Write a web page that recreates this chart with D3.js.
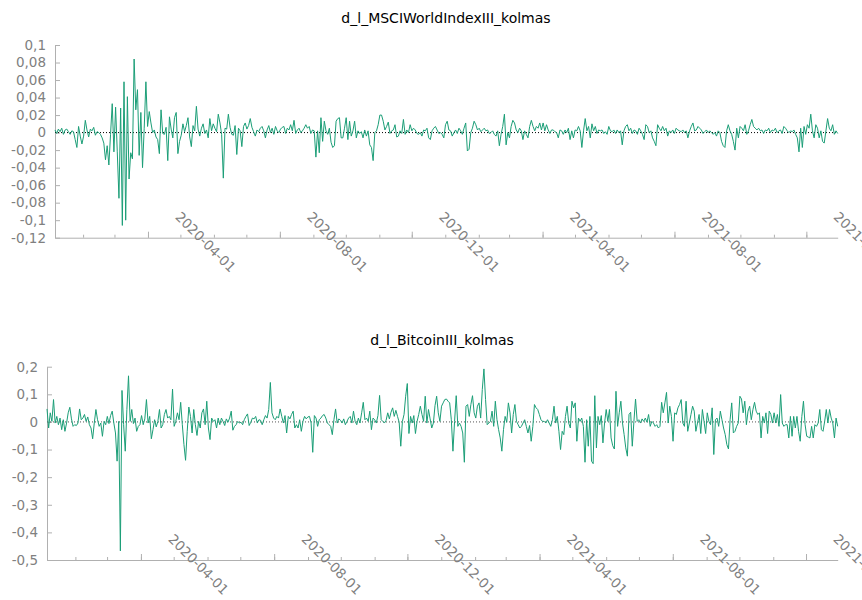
<!DOCTYPE html>
<html>
<head>
<meta charset="utf-8">
<script src="https://cdn.jsdelivr.net/npm/d3@7"></script>
<style>
  body { margin: 0; background: #fff; }
  text { font-family: "DejaVu Sans", sans-serif; }
</style>
</head>
<body>
<div id="chart"></div>
<script>
// sample: daily observations, 2020-01-06 .. 2021-12-30
const startDate = new Date(2020, 0, 6);
const endDate = new Date(2021, 11, 30);

const majorTickDates = ["2020-04-01", "2020-08-01", "2020-12-01", "2021-04-01", "2021-08-01", "2021-12-01"];
const msciTicks = [0.1, 0.08, 0.06, 0.04, 0.02, 0, -0.02, -0.04, -0.06, -0.08, -0.1, -0.12];
const btcTicks = [0.2, 0.1, 0, -0.1, -0.2, -0.3, -0.4, -0.5];

const msciValues = [
  0.003, -0.001, 0.004, 0.001, 0.005, -0.002, 0.003, 0.004, 0.001, -0.002, 0.002, 0.001,
  -0.008, -0.017, 0.007, -0.004, -0.013, -0.004, 0.014, 0.003, -0.005, 0.004, 0.002, 0.006,
  -0.003, 0.001, 0.000, -0.002, -0.006, -0.012, -0.031,
  -0.015, -0.037, -0.002, 0.033, -0.022, 0.029, -0.022, -0.075, 0.028, -0.106, 0.058, -0.100,
  0.041, -0.053, -0.023, -0.030, 0.084, 0.026, 0.049, -0.026, 0.023, -0.040, 0.005, 0.058,
  0.007, 0.024, 0.011, 0.000, 0.003, -0.005, -0.008, -0.024, 0.026, -0.001, -0.002, 0.006,
  -0.032, 0.018, 0.004, -0.006, 0.017, 0.023, -0.024, -0.010, -0.003, 0.010, 0.001, 0.008,
  0.017,
  -0.005, -0.016, 0.008, 0.002, 0.030, 0.004, -0.004, 0.005, 0.010, -0.001, 0.003, -0.006,
  0.016, 0.002, 0.010, 0.005, 0.001, 0.021, 0.011, -0.002, -0.052, 0.005, 0.004, 0.021,
  0.006, -0.002, -0.003, 0.008, -0.025, 0.005, 0.002, -0.016, 0.007, 0.011, 0.004, 0.008,
  0.016, 0.006, 0.001, -0.004, 0.003,
  0.001, 0.005, 0.007, 0.002, -0.006, 0.003, 0.008, 0.000, 0.005, -0.002, 0.007, 0.002,
  0.000, 0.004, 0.006,
  0.007, -0.001, 0.005, 0.003, 0.009, 0.002, 0.014, -0.001, 0.003, 0.005, 0.000, 0.002,
  0.005, 0.009, 0.005, 0.007, -0.001, 0.003, 0.002, -0.028, 0.002, -0.023, 0.017, -0.010,
  0.013, 0.002, -0.002, 0.005, -0.011, -0.017, -0.015, 0.013, 0.016, 0.017, -0.006, -0.006,
  0.005, 0.017, -0.008, 0.013, -0.004, 0.002, 0.013, -0.006, 0.002, -0.001, 0.001, -0.006,
  0.003, -0.004, 0.002, -0.014, -0.017, -0.032, 0.000, 0.002, 0.009, 0.020, 0.020, 0.013,
  0.003, 0.007, 0.012, -0.001, 0.002, 0.003, 0.009, -0.005, -0.004, 0.002, -0.001, 0.015,
  -0.002, 0.003, 0.000, 0.009, 0.002, 0.005, 0.003, -0.001, -0.002, 0.000, -0.004, 0.003,
  0.002, 0.005, -0.006, -0.008, 0.002, 0.005, 0.007, 0.003, -0.001, 0.000, -0.002, -0.006,
  0.009, 0.013, 0.003, 0.002, -0.004, 0.000, 0.003, -0.001, 0.005, 0.002, -0.002, 0.005,
  0.011, -0.021, -0.019, 0.000, 0.005, 0.013, 0.009, 0.003, 0.005, 0.001, 0.003, 0.005,
  0.002, 0.003, -0.001, 0.000, 0.002, -0.002, -0.004, 0.002, -0.015, -0.002, 0.007, 0.021,
  -0.014, 0.000, -0.006, 0.007, 0.014, 0.011, 0.003, 0.000, 0.005, 0.002, -0.008, 0.002,
  -0.002, -0.006, 0.007, 0.014, 0.007, 0.002, 0.007, 0.005, 0.011, 0.003, 0.011, 0.002,
  0.009, 0.003, -0.001, 0.003, 0.003, 0.001,
  0.000, -0.006, 0.003, 0.002, -0.002, 0.003, 0.000, 0.005, -0.008, 0.002, -0.006, 0.003,
  0.002, 0.007, 0.002, -0.017, 0.002, 0.016, 0.002, 0.007, -0.006, 0.010, 0.002, 0.007,
  -0.001, 0.003, 0.002, 0.003, -0.001, 0.001, -0.002, 0.007, 0.002, 0.001, 0.003, -0.001,
  0.003, 0.000, 0.002, -0.014, 0.002, 0.007, 0.009, 0.002, 0.005, -0.001, 0.003, 0.002,
  -0.002, 0.005, 0.002, -0.002, -0.008, 0.009, 0.007, 0.000, 0.002, -0.006, -0.010, -0.015,
  0.009, 0.005, 0.002, 0.007, 0.002, 0.005, -0.004, 0.002, 0.000, 0.003, -0.001, 0.005,
  0.003, 0.002, 0.001, 0.003, 0.000, 0.002, -0.006, 0.002, 0.007, 0.011, 0.002, 0.003,
  0.007, 0.005, 0.003, -0.001, 0.001, 0.003, 0.000, 0.002, 0.000, -0.002, 0.000, -0.004,
  0.002, 0.000, -0.010, -0.015, -0.017, 0.002, 0.009, 0.002, -0.002, -0.010, -0.020, 0.005,
  -0.006, 0.007, 0.005, 0.002, 0.009, -0.002, 0.002, 0.009, 0.015, 0.007, 0.005, 0.003,
  0.005, 0.002, 0.003, -0.001, 0.003, 0.002, 0.005, 0.000, 0.003, 0.002, 0.005, 0.000,
  0.002, 0.003, -0.001, 0.007, 0.005, 0.002, 0.000, 0.002, 0.001, 0.003, -0.002, -0.006,
  -0.022, 0.005, -0.017, 0.007, -0.002, 0.009, 0.005, 0.021, 0.002, -0.006, 0.009, 0.005,
  -0.006, 0.002, -0.010, -0.012, 0.002, 0.016, 0.005, 0.002, 0.009, -0.002, 0.002, -0.001
];

const btcValues = [
  0.047, -0.022, 0.033, 0.002, 0.081, -0.004, 0.020, -0.010, 0.014, -0.028, 0.008, -0.034,
  -0.004, 0.033, 0.053, 0.011, -0.016, -0.010, -0.013, -0.004, 0.047, 0.008, 0.014, 0.027,
  0.002, 0.018, -0.010, -0.022, -0.061, -0.004, 0.045, 0.008, -0.016, -0.004, -0.052, 0.002,
  -0.010, 0.020, -0.006, 0.023, 0.039, -0.004, -0.040, -0.142, 0.002, -0.467, 0.114, -0.010,
  -0.106, 0.045, 0.167, 0.002, 0.045, -0.006, 0.014, -0.034, -0.016, -0.010, 0.023, -0.010,
  0.011, 0.081, -0.004, 0.020, -0.061, -0.028, 0.008, -0.018, 0.002, 0.045, -0.022, -0.010,
  0.027, 0.045, 0.014, 0.020, 0.008, 0.119, -0.016, 0.002, 0.033, 0.008, 0.071, -0.010,
  -0.082, -0.139, -0.034, 0.054, 0.020, -0.040, 0.045, -0.010, -0.049, 0.002, -0.022, 0.033,
  0.047, -0.010, 0.075, -0.022, -0.064, 0.014, 0.002, 0.008, -0.022, 0.014, -0.010, 0.014,
  0.002, -0.013, 0.011, -0.001, 0.014, 0.039, -0.030, -0.016, -0.010, 0.002, -0.004, -0.001,
  -0.010, 0.008, 0.020, 0.029, -0.013,
  -0.001, 0.014, 0.011, 0.020, -0.004, 0.008, 0.006, -0.010, 0.008, 0.023, 0.014, 0.045,
  0.143, 0.033, 0.014, 0.008, 0.020, 0.014, 0.047, 0.020,
  -0.004, 0.023, -0.040, 0.020, 0.011, 0.027, 0.039, -0.022, -0.010, -0.022, 0.008, -0.034,
  0.002, 0.020, 0.011, 0.018, 0.020, -0.004, -0.110, 0.023, 0.014, -0.016, 0.008, 0.014,
  0.023, 0.027, 0.014, -0.004, -0.010, -0.016, -0.046, 0.008, 0.047, -0.004, 0.011, 0.006,
  -0.004, 0.011, -0.010, 0.002, 0.014, 0.020, -0.004, 0.039, 0.002, -0.010, 0.014, -0.004,
  0.033, 0.071, 0.008, 0.014, 0.002, 0.039, -0.028, 0.014, 0.008, -0.004, 0.023, 0.096,
  0.008, 0.002, -0.004, 0.006, 0.033, 0.011, 0.035, 0.051, 0.020, 0.042, 0.020, -0.001,
  -0.088, 0.002, 0.027, 0.093, 0.139, -0.042, 0.020, -0.004, 0.023, -0.042, 0.002, 0.027,
  0.057, 0.027, 0.002, 0.093, -0.004, 0.045, 0.011, -0.022, -0.004, 0.059, 0.093, 0.033,
  0.002, 0.057, 0.069, 0.081, 0.083, 0.075, 0.069, 0.008, -0.106, 0.002, 0.095, -0.016,
  -0.004, -0.016, -0.040, -0.146, 0.057, 0.063, 0.020, 0.063, 0.095, 0.033, 0.014, 0.057,
  0.069, 0.014, 0.117, 0.192, 0.081, -0.010, -0.004, 0.002, 0.039, -0.016, 0.075, 0.008,
  -0.028, -0.058, -0.106, -0.028, 0.020, -0.001, 0.069, 0.033, -0.040, 0.027, 0.063, 0.002,
  -0.010, -0.022, -0.016, -0.004, 0.008, -0.016, -0.040, -0.013, -0.070, -0.016, 0.063, 0.051,
  0.045, 0.027, 0.008, 0.002, 0.002, -0.004, 0.008, -0.004, -0.016, 0.008, 0.057, -0.004,
  0.020, -0.034, -0.100,
  -0.034, -0.046, 0.020, 0.057, -0.004, -0.022, 0.075, 0.051, 0.069, -0.070, 0.014, 0.002,
  0.014, -0.016, -0.146, 0.008, -0.088, 0.020, -0.142, -0.151, 0.095, -0.094, 0.020, -0.010,
  0.023, -0.076, -0.004, 0.045, 0.002, 0.045, -0.058, -0.086, -0.098, 0.111, -0.016, 0.033,
  0.075, -0.004, -0.046, -0.094, -0.124, 0.027, 0.035, -0.088, 0.002, 0.083, 0.002, 0.008,
  -0.004, 0.011, 0.002, 0.014, -0.001, 0.027, -0.016, 0.002, -0.004, -0.016, -0.010, -0.022,
  -0.016, 0.071, 0.033, 0.069, 0.107, -0.004, 0.057, 0.020, -0.070, 0.033, 0.027, 0.051,
  0.063, 0.081, -0.004, -0.016, 0.075, -0.034, -0.004, 0.027, 0.057, 0.039, -0.034, -0.004,
  0.027, -0.042, 0.045, 0.002, -0.042, 0.033, 0.002, -0.010, 0.051, -0.118, 0.008, 0.014,
  -0.016, 0.039, 0.008, -0.022, -0.046, -0.082, -0.098, 0.008, 0.069, -0.040, -0.034, -0.016,
  -0.004, 0.093, 0.083, 0.033, 0.075, -0.010, 0.039, 0.057, 0.008, 0.045, 0.071, 0.039,
  0.027, 0.033, -0.058, 0.020, -0.004, 0.033, -0.042, 0.039, 0.027, -0.004, 0.033, -0.004,
  0.027, -0.016, 0.099, -0.004, -0.016, -0.010, -0.010, -0.058, 0.020, -0.052, 0.020, -0.022,
  0.020, -0.034, -0.070, 0.020, 0.075, -0.010, -0.052, -0.055, -0.058, -0.016, -0.058, -0.010,
  -0.016, -0.004, 0.045, -0.028, -0.034, 0.002, 0.045, -0.004, 0.045, 0.014, -0.004, -0.058,
  0.014, -0.016
];

const W = 862, H = 600;
const lineColor = "#1b9e77";
const axisColor = "#b0b0b0";
const labelColor = "#808080";

const locale = d3.formatLocale({ decimal: ",", thousands: " ", grouping: [3], currency: ["", ""], minus: "-" });
const fmtY = locale.format("~g");
const fmtDate = d3.timeFormat("%Y-%m-%d");
const parseDate = d3.timeParse("%Y-%m-%d");

const svg = d3.select("#chart").append("svg")
  .attr("width", W).attr("height", H)
  .attr("viewBox", `0 0 ${W} ${H}`);
svg.append("rect").attr("width", W).attr("height", H).attr("fill", "#fff");

function drawPanel({ title, titleX, titleY, values, yTicks, yDomain, left, right, top, bottom, zeroColor }) {
  const x = d3.scaleTime().domain([startDate, endDate]).range([left, right]);
  const y = d3.scaleLinear().domain(yDomain).range([bottom, top]);
  const idx = d3.scaleLinear().domain([0, values.length - 1]).range([+startDate, +endDate]);

  const g = svg.append("g");

  g.append("text")
    .attr("x", titleX).attr("y", titleY)
    .attr("text-anchor", "middle")
    .attr("font-size", 14).attr("fill", "#000")
    .text(title);

  // y axis, ticks pointing inward
  const yAxis = g.append("g")
    .attr("transform", `translate(${left},0)`)
    .call(d3.axisLeft(y).tickValues(yTicks).tickFormat(fmtY).tickSize(-5).tickSizeOuter(0).tickPadding(9));
  yAxis.select(".domain").attr("stroke", axisColor);
  yAxis.selectAll(".tick line").attr("stroke", axisColor);
  yAxis.selectAll(".tick text").attr("fill", labelColor).attr("font-size", 13.5)
    .attr("font-family", "DejaVu Sans, sans-serif");

  // x axis: minor month ticks + major 4-month ticks
  const xAxis = g.append("g").attr("transform", `translate(0,${bottom})`);
  const monthTicks = d3.timeMonth.range(d3.timeMonth.ceil(startDate), endDate);
  xAxis.call(d3.axisBottom(x).tickValues(monthTicks).tickSize(-3).tickSizeOuter(0).tickFormat(""));
  xAxis.select(".domain").attr("stroke", axisColor);
  xAxis.selectAll(".tick line").attr("stroke", axisColor);

  const majors = majorTickDates.map(parseDate);
  const majorG = g.append("g").attr("transform", `translate(0,${bottom})`);
  majorG.call(d3.axisBottom(x).tickValues(majors).tickSize(-6).tickSizeOuter(0).tickFormat(""));
  majorG.select(".domain").remove();
  majorG.selectAll(".tick line").attr("stroke", axisColor);
  majorG.selectAll(".tick").append("text")
    .attr("transform", "translate(26,-20) rotate(45)")
    .attr("text-anchor", "start")
    .attr("font-size", 13.5)
    .attr("fill", labelColor)
    .text(d => fmtDate(d));

  // zero line
  g.append("line")
    .attr("x1", left).attr("x2", right)
    .attr("y1", y(0)).attr("y2", y(0))
    .attr("stroke", zeroColor).attr("stroke-width", 1)
    .attr("stroke-dasharray", "1,2");

  const line = d3.line()
    .x((d, i) => x(new Date(idx(i))))
    .y(d => y(d));

  g.append("path")
    .datum(values)
    .attr("fill", "none")
    .attr("stroke", lineColor)
    .attr("stroke-width", 1)
    .attr("stroke-linejoin", "miter")
    .attr("d", line);
}

drawPanel({
  title: "d_l_MSCIWorldIndexIII_kolmas", titleX: 446, titleY: 23,
  values: msciValues, yTicks: msciTicks, yDomain: [-0.12, 0.1],
  left: 55, right: 837.7, top: 45, bottom: 237.7, zeroColor: "#000"
});

drawPanel({
  title: "d_l_BitcoinIII_kolmas", titleX: 442, titleY: 345,
  values: btcValues, yTicks: btcTicks, yDomain: [-0.5, 0.2],
  left: 47, right: 837.7, top: 366.7, bottom: 560, zeroColor: "#555"
});
</script>
</body>
</html>
